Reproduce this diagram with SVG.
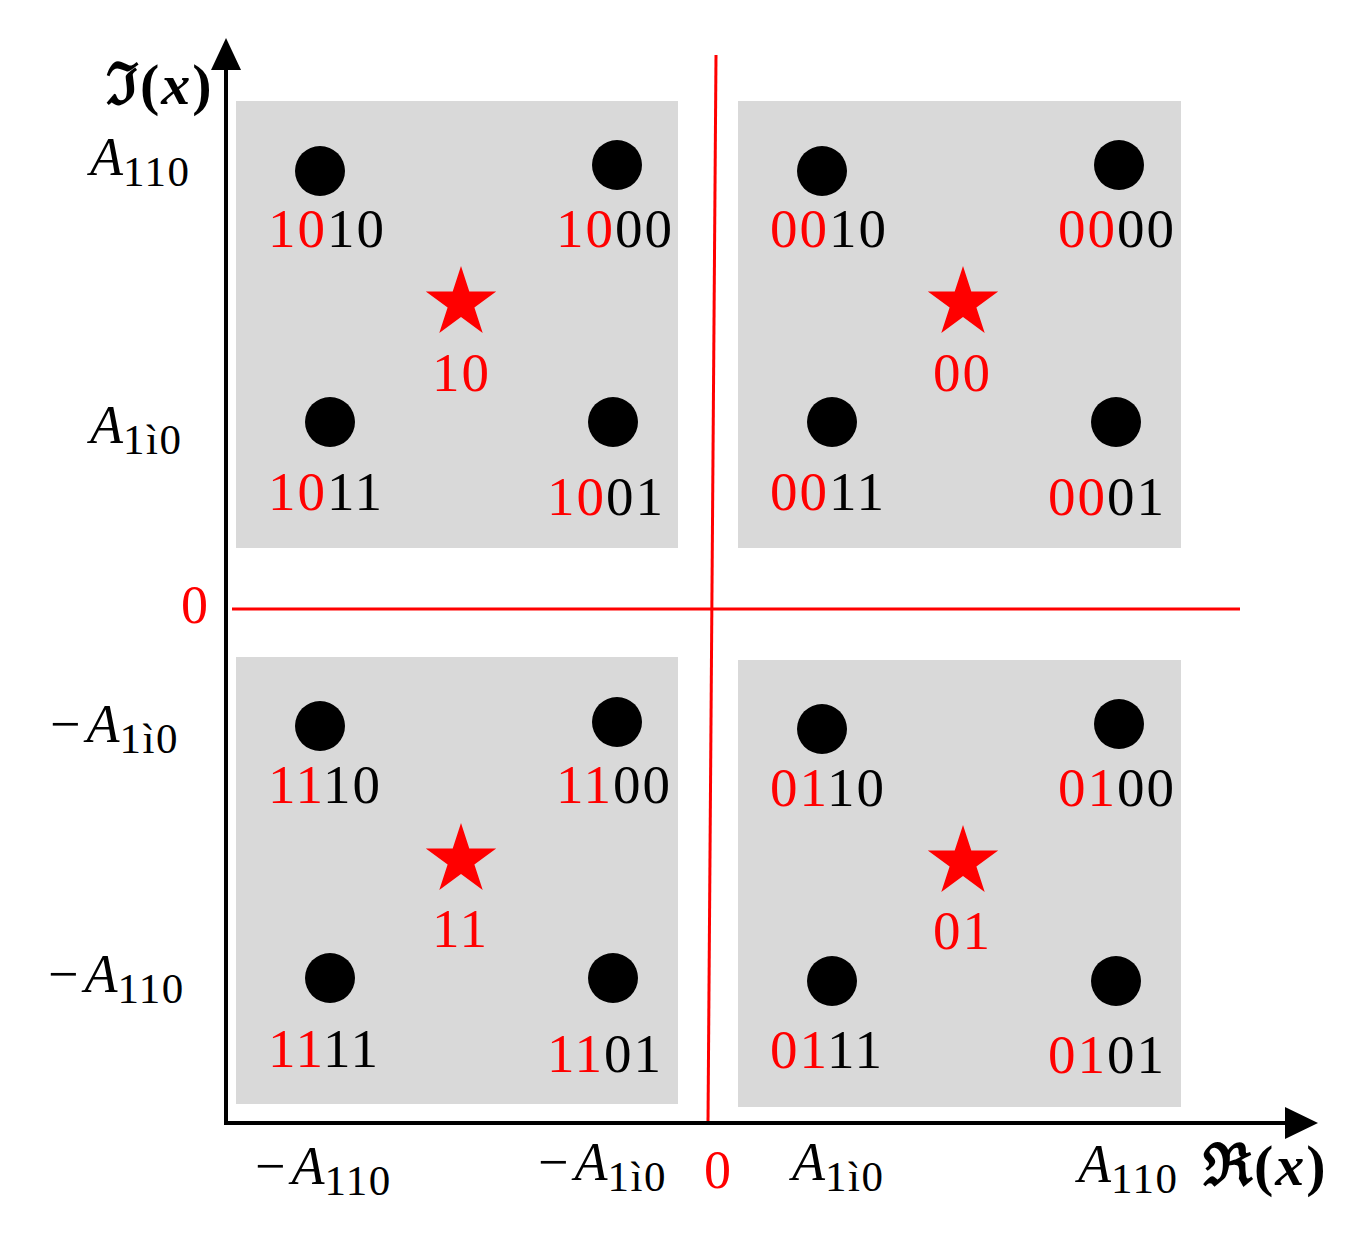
<svg xmlns="http://www.w3.org/2000/svg" width="1350" height="1238" viewBox="0 0 1350 1238">
<defs>
<style>
.box{fill:#d9d9d9}
.dot{fill:#000}
.lbl{font-family:"Liberation Serif","DejaVu Serif",serif;font-size:55px;fill:#000;letter-spacing:2px}
.ax{font-family:"Liberation Serif","DejaVu Serif",serif;font-size:54px;fill:#000}
.r{fill:#ff0000}
.it{font-style:italic}
.sub{font-size:43px;letter-spacing:1.5px}
.fr{font-size:58px;font-weight:bold;letter-spacing:2px}
.star{fill:#ff0000}
.axis{stroke:#000;stroke-width:4;fill:none}
.red{stroke:#ff0000;stroke-width:3;fill:none}
</style>
<polygon id="st" points="0,-37 8.3,-11.4 35.2,-11.4 13.4,4.4 21.7,29.9 0,14.1 -21.7,29.9 -13.4,4.4 -35.2,-11.4 -8.3,-11.4"/>
</defs>
<rect width="1350" height="1238" fill="#fff"/>
<g id="q10">
<rect class="box" x="236" y="101" width="442" height="447"/>
<circle class="dot" cx="320" cy="171" r="25"/><circle class="dot" cx="617" cy="165" r="25"/>
<circle class="dot" cx="330" cy="422" r="25"/><circle class="dot" cx="613" cy="422" r="25"/>
<use href="#st" class="star" x="461" y="303"/>
<text class="lbl" x="268" y="247"><tspan class="r">10</tspan>10</text>
<text class="lbl" x="556" y="247"><tspan class="r">10</tspan>00</text>
<text class="lbl" x="268" y="510"><tspan class="r">10</tspan>11</text>
<text class="lbl" x="547" y="515"><tspan class="r">10</tspan>01</text>
<text class="lbl r" x="432" y="391">10</text>
</g>
<g id="q00">
<rect class="box" x="738" y="101" width="443" height="447"/>
<circle class="dot" cx="822" cy="171" r="25"/><circle class="dot" cx="1119" cy="165" r="25"/>
<circle class="dot" cx="832" cy="422" r="25"/><circle class="dot" cx="1116" cy="422" r="25"/>
<use href="#st" class="star" x="963" y="303"/>
<text class="lbl" x="770" y="247"><tspan class="r">00</tspan>10</text>
<text class="lbl" x="1058" y="247"><tspan class="r">00</tspan>00</text>
<text class="lbl" x="770" y="510"><tspan class="r">00</tspan>11</text>
<text class="lbl" x="1048" y="515"><tspan class="r">00</tspan>01</text>
<text class="lbl r" x="933" y="391">00</text>
</g>
<g id="q11">
<rect class="box" x="236" y="657" width="442" height="447"/>
<circle class="dot" cx="320" cy="726" r="25"/><circle class="dot" cx="617" cy="722" r="25"/>
<circle class="dot" cx="330" cy="978" r="25"/><circle class="dot" cx="613" cy="978" r="25"/>
<use href="#st" class="star" x="461" y="860"/>
<text class="lbl" x="268" y="803"><tspan class="r">11</tspan>10</text>
<text class="lbl" x="556" y="803"><tspan class="r">11</tspan>00</text>
<text class="lbl" x="268" y="1067"><tspan class="r">11</tspan>11</text>
<text class="lbl" x="547" y="1072"><tspan class="r">11</tspan>01</text>
<text class="lbl r" x="432" y="947">11</text>
</g>
<g id="q01">
<rect class="box" x="738" y="660" width="443" height="447"/>
<circle class="dot" cx="822" cy="729" r="25"/><circle class="dot" cx="1119" cy="724" r="25"/>
<circle class="dot" cx="832" cy="981" r="25"/><circle class="dot" cx="1116" cy="981" r="25"/>
<use href="#st" class="star" x="963" y="862"/>
<text class="lbl" x="770" y="806"><tspan class="r">01</tspan>10</text>
<text class="lbl" x="1058" y="806"><tspan class="r">01</tspan>00</text>
<text class="lbl" x="770" y="1068"><tspan class="r">01</tspan>11</text>
<text class="lbl" x="1048" y="1073"><tspan class="r">01</tspan>01</text>
<text class="lbl r" x="933" y="949">01</text>
</g>
<g id="connectors">
<line class="red" x1="232" y1="609" x2="1240" y2="609"/>
<line class="red" x1="716" y1="55" x2="708" y2="1122"/>
<line class="axis" x1="226" y1="1125" x2="226" y2="66"/>
<polygon points="226,38 211,70 241,70" fill="#000"/>
<line class="axis" x1="224" y1="1123" x2="1290" y2="1123"/>
<polygon points="1318,1123 1285,1107 1285,1139" fill="#000"/>
</g>
<g id="labels">
<text class="ax fr" x="106" y="104">ℑ(<tspan class="it">x</tspan>)</text>
<text class="ax" x="90" y="175"><tspan class="it">A</tspan><tspan class="sub" dy="11">110</tspan></text>
<text class="ax" x="90" y="443"><tspan class="it">A</tspan><tspan class="sub" dy="11">1ì0</tspan></text>
<text class="ax r" x="181" y="623">0</text>
<text class="ax" x="50" y="742">−<tspan class="it" dx="6">A</tspan><tspan class="sub" dy="11">1ì0</tspan></text>
<text class="ax" x="48" y="992">−<tspan class="it" dx="6">A</tspan><tspan class="sub" dy="11">110</tspan></text>
<text class="ax" x="255" y="1184">−<tspan class="it" dx="6">A</tspan><tspan class="sub" dy="11">110</tspan></text>
<text class="ax" x="538" y="1180">−<tspan class="it" dx="6">A</tspan><tspan class="sub" dy="11">1ì0</tspan></text>
<text class="ax r" x="704" y="1188">0</text>
<text class="ax" x="792" y="1180"><tspan class="it">A</tspan><tspan class="sub" dy="11">1ì0</tspan></text>
<text class="ax" x="1078" y="1182"><tspan class="it">A</tspan><tspan class="sub" dy="11">110</tspan></text>
<text class="ax fr" x="1203" y="1185">ℜ(<tspan class="it">x</tspan>)</text>
</g>
</svg>
